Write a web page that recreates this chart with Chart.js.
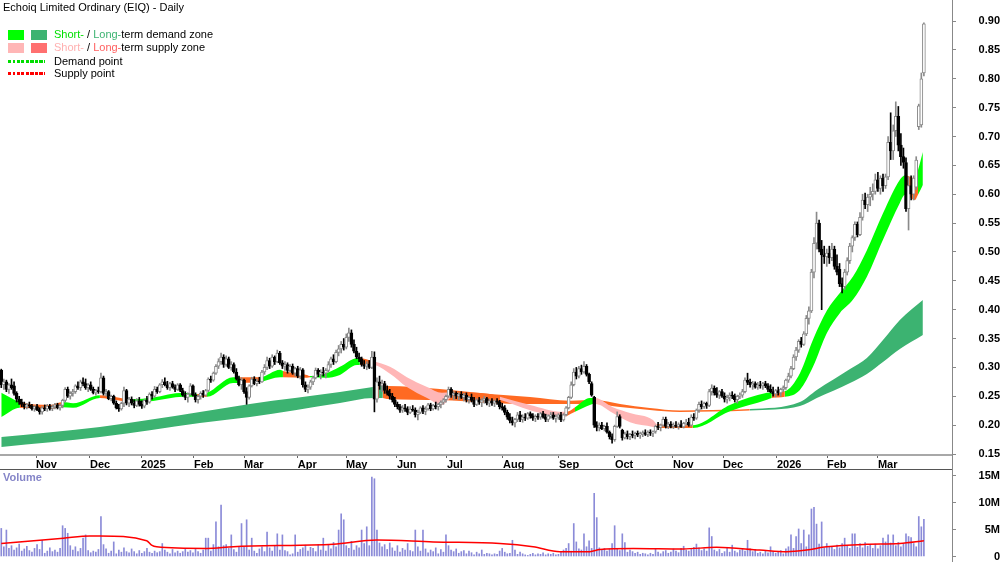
<!DOCTYPE html>
<html>
<head>
<meta charset="utf-8">
<script src="https://cdn.jsdelivr.net/npm/chart.js@4.4.1/dist/chart.umd.min.js"></script>
<style>
  body { margin: 0; background: #fff; width: 1000px; height: 562px; overflow: hidden; position: relative;
         font-family: "Liberation Sans", Arial, sans-serif; }
  #priceBox { position: absolute; left: 0; top: 0; width: 1000px; height: 470px; }
  #volBox { position: absolute; left: 0; top: 470px; width: 1000px; height: 92px; }
  .sep { position: absolute; left: 0; top: 469px; width: 953px; height: 1px; background: #555; }
  .axisLine { position: absolute; left: 952px; top: 0; width: 1px; height: 562px; background: #888; }
  .title { position: absolute; left: 3px; top: 1px; font-size: 11px; color: #000; }
  .leg { position: absolute; left: 54px; font-size: 11px; color: #000; white-space: nowrap; }
  .sw { position: absolute; width: 16px; height: 10px; }
  .dots { position: absolute; left: 8px; width: 37px; height: 3px; }
  .volLabel { position: absolute; left: 3px; top: 471px; font-size: 11px; font-weight: bold; color: #8585c8; }
</style>
</head>
<body>
<div id="priceBox"><canvas id="priceChart" width="1000" height="470"></canvas></div>
<div id="volBox"><canvas id="volChart" width="1000" height="92"></canvas></div>
<div class="sep"></div>
<div class="axisLine"></div>

<div class="title">Echoiq Limited Ordinary (EIQ) - Daily</div>
<div class="sw" style="left:8px;top:30px;background:#00ff00"></div>
<div class="sw" style="left:31px;top:30px;background:#3cb371"></div>
<div class="leg" style="top:28px"><span style="color:#00e000">Short-</span> / <span style="color:#3cb371">Long-</span>term demand zone</div>
<div class="sw" style="left:8px;top:43px;background:#ffb6b6"></div>
<div class="sw" style="left:31px;top:43px;background:#ff7070"></div>
<div class="leg" style="top:41px"><span style="color:#ffb0b0">Short-</span> / <span style="color:#ff6060">Long-</span>term supply zone</div>
<div class="dots" style="top:60px;background:repeating-linear-gradient(90deg,#00dd00 0 3px,transparent 3px 4.5px)"></div>
<div class="leg" style="top:55px">Demand point</div>
<div class="dots" style="top:72px;background:repeating-linear-gradient(90deg,#ff0000 0 3px,transparent 3px 4.5px)"></div>
<div class="leg" style="top:67px">Supply point</div>
<div class="volLabel">Volume</div>

<script>
// --- axis ticks ---
const monthPos = [13.6, 34.7, 54.7, 75.4, 95, 116, 134.9, 154.8, 174.4, 196.3, 218.2, 240.1, 262.8, 282.4, 303.5, 323.1, 343];
const monthLabels = ["Nov", "Dec", "2025", "Feb", "Mar", "Apr", "May", "Jun", "Jul", "Aug", "Sep", "Oct", "Nov", "Dec", "2026", "Feb", "Mar"];
const priceTicks = [0.15, 0.20, 0.25, 0.30, 0.35, 0.40, 0.45, 0.50, 0.55, 0.60, 0.65, 0.70, 0.75, 0.80, 0.85, 0.90];
const volTicks = [0, 5, 10, 15];

// --- daily bars: [open, high, low, close] ---
const priceBars = [
  [.295,.297,.265,.27],[.27,.28,.262,.275],[.275,.278,.258,.262],[.262,.272,.255,.27],[.27,.28,.262,.265],[.268,.275,.252,.255],[.255,.258,.24,.245],[.245,.25,.236,.24],[.24,.245,.232,.236],[.236,.24,.228,.232],
  [.232,.238,.228,.235],[.235,.24,.23,.233],[.233,.236,.226,.228],[.228,.234,.224,.232],[.232,.236,.225,.227],[.227,.23,.219,.223],[.223,.232,.219,.23],[.23,.235,.225,.228],[.228,.236,.224,.233],[.233,.236,.226,.229],
  [.229,.235,.225,.232],[.232,.238,.228,.235],[.235,.238,.228,.23],[.23,.236,.226,.234],[.234,.245,.23,.243],[.243,.265,.24,.262],[.262,.266,.248,.25],[.25,.258,.245,.255],[.255,.262,.25,.258],[.258,.27,.255,.268],
  [.268,.275,.262,.265],[.265,.278,.26,.275],[.275,.282,.268,.272],[.272,.28,.262,.265],[.265,.272,.258,.27],[.27,.275,.26,.262],[.262,.266,.254,.256],[.256,.262,.252,.26],[.26,.266,.255,.258],[.258,.29,.256,.282],
  [.282,.285,.252,.255],[.255,.262,.25,.258],[.258,.26,.244,.246],[.246,.252,.242,.25],[.25,.252,.236,.238],[.238,.242,.228,.23],[.23,.236,.224,.228],[.228,.24,.226,.238],[.238,.266,.232,.26],[.26,.262,.235,.238],
  [.238,.248,.232,.245],[.245,.249,.235,.238],[.238,.244,.23,.234],[.234,.246,.232,.242],[.242,.248,.233,.236],[.236,.242,.229,.233],[.233,.245,.23,.243],[.243,.25,.236,.24],[.24,.256,.238,.254],[.254,.258,.245,.25],
  [.25,.267,.248,.262],[.262,.266,.255,.258],[.258,.272,.256,.27],[.27,.279,.265,.275],[.275,.282,.268,.27],[.27,.276,.262,.265],[.265,.274,.26,.272],[.272,.276,.264,.266],[.266,.27,.258,.262],[.262,.272,.26,.27],
  [.27,.272,.258,.26],[.26,.264,.25,.252],[.252,.258,.244,.248],[.248,.256,.24,.254],[.254,.272,.252,.268],[.268,.27,.25,.252],[.252,.256,.24,.244],[.244,.252,.238,.25],[.25,.258,.245,.255],[.255,.26,.248,.252],
  [.252,.262,.25,.26],[.26,.282,.258,.28],[.28,.285,.274,.278],[.278,.292,.276,.29],[.29,.305,.288,.302],[.302,.315,.298,.31],[.31,.325,.305,.318],[.318,.322,.3,.305],[.305,.32,.302,.315],[.315,.318,.298,.3],
  [.3,.31,.295,.305],[.305,.308,.29,.292],[.292,.298,.278,.28],[.28,.285,.268,.27],[.27,.282,.262,.278],[.278,.28,.255,.258],[.258,.265,.236,.248],[.248,.27,.245,.268],[.268,.283,.266,.28],[.28,.284,.27,.272],
  [.272,.28,.268,.276],[.276,.283,.272,.275],[.275,.295,.274,.292],[.292,.305,.288,.3],[.3,.318,.296,.312],[.312,.316,.298,.302],[.302,.322,.3,.318],[.318,.32,.305,.31],[.31,.33,.308,.325],[.325,.328,.305,.308],
  [.308,.312,.298,.302],[.302,.31,.295,.305],[.305,.308,.29,.295],[.295,.305,.292,.302],[.302,.306,.288,.29],[.29,.3,.285,.298],[.298,.302,.282,.285],[.285,.3,.28,.296],[.296,.298,.266,.27],[.27,.275,.258,.262],
  [.262,.27,.256,.266],[.266,.278,.262,.275],[.275,.285,.27,.282],[.282,.299,.28,.295],[.295,.298,.284,.288],[.288,.296,.28,.292],[.292,.3,.285,.29],[.29,.298,.282,.295],[.295,.31,.292,.305],[.305,.318,.3,.315],
  [.315,.322,.305,.31],[.31,.33,.308,.326],[.326,.338,.32,.332],[.332,.345,.325,.34],[.34,.35,.33,.335],[.335,.358,.332,.352],[.352,.368,.345,.36],[.36,.365,.335,.34],[.34,.348,.325,.328],[.328,.335,.315,.318],
  [.318,.325,.31,.315],[.315,.318,.302,.305],[.305,.312,.298,.302],[.302,.31,.296,.306],[.306,.312,.298,.3],[.3,.328,.298,.318],[.318,.327,.223,.245],[.245,.282,.24,.275],[.275,.285,.262,.268],[.268,.278,.258,.272],
  [.272,.276,.255,.26],[.26,.268,.252,.255],[.255,.262,.245,.25],[.25,.255,.24,.244],[.244,.248,.232,.236],[.236,.24,.228,.232],[.232,.236,.222,.226],[.226,.234,.222,.23],[.23,.236,.224,.228],[.228,.232,.218,.222],
  [.222,.232,.22,.228],[.228,.234,.224,.226],[.226,.23,.214,.218],[.218,.226,.209,.222],[.222,.232,.22,.23],[.23,.234,.22,.224],[.224,.232,.218,.228],[.228,.238,.226,.235],[.235,.238,.225,.228],[.228,.236,.226,.234],
  [.234,.24,.228,.232],[.232,.238,.226,.236],[.236,.242,.23,.24],[.24,.246,.236,.244],[.244,.252,.24,.25],[.25,.266,.248,.262],[.262,.265,.248,.252],[.252,.258,.244,.255],[.255,.258,.246,.25],[.25,.256,.244,.254],
  [.254,.258,.246,.248],[.248,.255,.242,.252],[.252,.256,.24,.244],[.244,.25,.238,.248],[.248,.254,.24,.243],[.243,.248,.232,.236],[.236,.246,.234,.244],[.244,.248,.236,.24],[.24,.246,.232,.243],[.243,.25,.238,.246],
  [.246,.248,.235,.238],[.238,.245,.232,.242],[.242,.246,.234,.238],[.238,.244,.232,.242],[.242,.246,.236,.24],[.24,.243,.228,.232],[.232,.238,.226,.23],[.23,.234,.218,.222],[.222,.226,.21,.214],[.214,.22,.204,.208],
  [.208,.214,.2,.204],[.204,.212,.197,.21],[.21,.222,.206,.218],[.218,.224,.206,.21],[.21,.218,.205,.214],[.214,.22,.208,.212],[.212,.222,.21,.22],[.22,.223,.212,.216],[.216,.22,.208,.212],[.212,.218,.206,.215],
  [.215,.22,.21,.214],[.214,.222,.21,.22],[.22,.224,.212,.214],[.214,.219,.206,.21],[.21,.218,.206,.216],[.216,.222,.212,.218],[.218,.222,.21,.212],[.212,.218,.205,.214],[.214,.22,.21,.218],[.218,.222,.206,.209],
  [.209,.22,.207,.218],[.218,.232,.216,.23],[.23,.25,.228,.248],[.248,.275,.246,.27],[.27,.298,.268,.292],[.292,.3,.28,.285],[.285,.302,.282,.298],[.298,.304,.288,.292],[.292,.31,.29,.302],[.302,.305,.285,.288],
  [.288,.29,.272,.275],[.272,.275,.25,.252],[.248,.25,.196,.2],[.2,.206,.19,.196],[.196,.204,.19,.2],[.2,.205,.192,.194],[.194,.2,.19,.198],[.198,.204,.186,.188],[.188,.19,.176,.18],[.18,.185,.169,.175],
  [.175,.2,.172,.198],[.198,.223,.196,.215],[.215,.218,.195,.198],[.191,.193,.174,.178],[.178,.188,.176,.185],[.185,.19,.176,.18],[.18,.186,.175,.184],[.184,.19,.178,.182],[.182,.188,.176,.186],[.186,.19,.18,.183],
  [.183,.188,.177,.185],[.185,.19,.18,.187],[.187,.192,.182,.184],[.184,.19,.18,.188],[.188,.192,.182,.186],[.186,.19,.18,.189],[.189,.2,.186,.198],[.198,.205,.192,.196],[.196,.202,.19,.2],[.2,.214,.198,.21],
  [.21,.214,.195,.198],[.198,.205,.194,.202],[.202,.206,.195,.198],[.198,.204,.194,.2],[.2,.206,.196,.198],[.198,.204,.193,.201],[.201,.208,.196,.197],[.197,.205,.195,.203],[.203,.21,.2,.205],[.205,.212,.198,.2],
  [.2,.218,.198,.214],[.214,.22,.208,.212],[.212,.228,.21,.226],[.226,.24,.222,.236],[.236,.242,.228,.232],[.232,.24,.229,.238],[.238,.24,.229,.234],[.234,.262,.232,.258],[.258,.27,.252,.264],[.264,.268,.252,.256],
  [.256,.265,.248,.252],[.252,.26,.246,.258],[.258,.262,.248,.25],[.25,.256,.24,.245],[.245,.252,.238,.248],[.248,.256,.242,.252],[.252,.258,.246,.25],[.25,.254,.24,.244],[.244,.252,.238,.25],[.25,.256,.246,.252],
  [.252,.262,.248,.258],[.258,.282,.256,.278],[.278,.29,.27,.274],[.274,.28,.266,.27],[.27,.276,.262,.272],[.272,.275,.264,.266],[.266,.274,.262,.27],[.27,.276,.264,.268],[.268,.274,.262,.272],[.272,.276,.265,.268],
  [.268,.272,.258,.262],[.262,.27,.256,.258],[.258,.266,.25,.254],[.254,.262,.249,.26],[.26,.266,.252,.256],[.256,.264,.25,.262],[.262,.268,.258,.265],[.265,.28,.262,.278],[.278,.29,.274,.285],[.285,.302,.282,.298],
  [.298,.322,.296,.318],[.318,.335,.312,.33],[.33,.348,.326,.345],[.345,.352,.335,.34],[.34,.362,.338,.358],[.358,.39,.355,.385],[.385,.405,.375,.398],[.398,.47,.395,.465],[.465,.525,.455,.515],[.515,.569,.505,.55],
  [.55,.555,.5,.505],[.505,.52,.4,.495],[.495,.51,.48,.492],[.492,.505,.475,.498],[.498,.51,.48,.49],[.49,.515,.485,.505],[.505,.51,.47,.475],[.475,.495,.46,.465],[.47,.48,.44,.445],[.445,.455,.429,.44],
  [.44,.47,.435,.465],[.465,.49,.46,.485],[.485,.515,.48,.51],[.51,.528,.5,.525],[.525,.552,.52,.548],[.548,.552,.526,.53],[.53,.568,.528,.56],[.56,.6,.555,.59],[.59,.602,.575,.582],[.582,.6,.57,.595],
  [.595,.612,.58,.6],[.6,.618,.59,.605],[.605,.635,.6,.625],[.625,.638,.605,.61],[.61,.632,.6,.628],[.628,.635,.605,.615],[.615,.635,.61,.63],[.63,.7,.625,.69],[.69,.741,.66,.675],[.675,.72,.66,.71],
  [.71,.76,.7,.735],[.735,.752,.675,.685],[.685,.705,.65,.665],[.665,.68,.645,.655],[.655,.663,.57,.575],[.575,.63,.538,.615],[.615,.632,.59,.6],[.6,.632,.59,.628],[.612,.665,.608,.659],[.717,.756,.712,.753],
  [.72,.81,.716,.8],[.81,.897,.805,.895]
];

// --- daily volume (millions) ---
const volume = [
  5.2,1.8,4.9,1.5,2.0,1.2,1.6,2.3,1.0,1.4, 1.9,1.1,0.8,1.5,2.2,1.3,3.0,0.6,1.0,1.6,
  0.9,1.2,0.8,1.5,5.7,5.2,4.3,2.0,1.2,1.8, 0.9,1.5,3.4,4.0,1.1,0.7,1.0,0.8,1.3,7.4,
  2.2,1.4,0.6,1.0,2.7,0.5,1.2,0.8,1.6,0.9, 0.7,1.4,0.9,0.5,1.1,0.6,0.9,1.5,0.8,0.6,
  1.0,0.7,0.9,2.4,1.2,0.8,0.5,1.3,0.7,1.0, 0.6,0.9,1.4,0.8,1.1,0.7,1.5,0.9,0.6,1.2,
  3.4,3.4,1.0,2.2,6.4,1.8,9.5,2.0,2.2,1.5, 4.0,1.3,0.8,1.9,6.1,1.7,6.8,1.2,3.4,1.0,
  0.6,1.4,1.8,0.9,4.5,1.6,1.0,2.0,4.2,1.2, 4.0,1.1,0.9,0.3,0.5,4.0,0.8,1.3,1.6,2.1,
  1.0,1.7,1.5,0.9,2.2,1.2,3.4,1.0,2.1,1.4, 2.6,1.8,4.9,7.9,6.8,2.0,1.5,2.8,1.2,2.0,
  1.6,4.9,2.4,5.5,2.0,14.7,14.4,4.9,2.5,1.8, 2.2,1.3,2.5,1.6,1.0,2.0,0.8,1.5,1.2,2.4,
  1.1,0.9,4.9,1.8,1.0,4.9,1.4,0.7,1.2,0.9, 1.6,0.5,1.3,0.8,4.0,2.0,1.2,0.9,1.4,0.6,
  0.9,1.1,0.5,1.0,0.7,0.3,0.8,0.5,1.2,0.4, 0.6,0.5,0.3,0.5,0.4,1.0,1.5,0.8,0.5,0.6,
  3.0,1.2,0.4,0.8,0.5,0.3,0.2,0.4,0.6,0.3, 0.5,0.4,0.7,0.3,0.5,0.4,0.6,0.3,0.4,0.8,
  1.2,1.5,2.4,1.0,6.1,2.7,1.4,1.2,4.2,1.8, 2.9,1.5,11.7,7.2,1.6,1.3,1.5,1.0,1.4,2.4,
  5.7,1.5,1.1,4.2,2.6,0.8,1.2,0.9,0.6,0.8, 0.4,0.6,0.5,0.3,0.6,0.4,1.5,0.8,0.5,0.9,
  1.1,0.6,0.8,1.4,1.0,0.7,1.5,1.9,1.2,1.0, 1.5,1.7,2.3,1.6,1.1,1.4,1.0,5.3,3.7,1.2,
  0.9,1.3,0.6,0.9,1.5,0.8,2.1,1.0,0.7,1.2, 1.5,1.0,3.0,1.4,0.9,1.3,0.6,0.8,0.5,1.0,
  0.7,1.8,0.9,0.6,0.8,1.1,0.5,1.4,1.8,4.0, 1.5,3.7,5.1,2.4,4.9,1.8,4.0,8.8,9.1,6.0,
  2.3,6.4,1.6,2.4,1.7,1.9,1.3,2.1,1.6,2.4, 3.4,2.0,1.5,4.2,4.2,1.7,2.4,1.6,2.6,1.9,
  2.2,1.5,2.3,1.4,2.0,3.4,2.7,4.0,2.5,4.0, 2.0,2.6,1.8,2.4,4.2,3.7,3.5,2.4,1.8,7.4,
  5.5,6.9
];

// --- volume moving average (read at sparse bars) ---
const volAvgX = [0, 24.3, 34.7, 38.6, 56.9, 58.8, 60.8, 80.4, 90.8, 116.9, 129.9, 146.9, 169, 195.1, 208.1, 218.6, 230.3, 234.2, 247.3, 266.8, 279.9, 296.8, 307.3, 315.1, 322.9, 338.5, 351.6, 361];
const volAvgY = [2.4, 3.4, 3.8, 3.8, 2.9, 2.1, 1.8, 1.5, 1.8, 2.1, 2.25, 3.06, 2.7, 2.4, 1.8, 0.9, 0.9, 1.3, 1.5, 1.4, 1.7, 1.2, 0.9, 1.2, 1.8, 2.25, 2.4, 2.9];

// --- short-term zone (g demand, p/o supply) ---
const shortX = [0, 7.3, 19.1, 24.1, 28.1, 38.6, 51.5, 59.4, 71.1, 76.6, 80.5, 90.7, 93.4, 101.2, 109.1, 110.2, 119.6, 120.8, 126.7, 132.5, 139.2, 140.3, 145.4, 152.1, 158.7, 166.6, 172.4, 176.3, 191.2, 195.1, 206.9, 219.8, 221.3, 224.5, 230.3, 232.3, 239.3, 246, 255, 256.5, 270.6, 285.1, 299.6, 301.5, 306.6, 312.5, 317.6, 323.1, 328.1, 333.2, 338.7, 345, 351.6, 353.6, 357.5, 358.7, 360.6];
const shortTop = [.256, .240, .235, .240, .238, .252, .245, .248, .256, .254, .256, .283, .283, .283, .296, .294, .287, .285, .289, .301, .316, .316, .311, .301, .283, .266, .256, .257, .254, .249, .235, .223, .223, .231, .247, .247, .231, .221, .209, .202, .200, .235, .256, .257, .259, .290, .348, .399, .429, .457, .503, .567, .625, .633, .628, .642, .673];
const shortBottom = [.214, .230, .228, .231, .230, .247, .240, .242, .249, .249, .249, .273, .273, .275, .283, .283, .282, .283, .282, .287, .304, .304, .304, .289, .266, .247, .235, .248, .249, .244, .226, .214, .216, .223, .235, .237, .221, .205, .197, .195, .195, .224, .244, .247, .249, .261, .301, .360, .394, .417, .457, .521, .585, .599, .590, .599, .616];
const shortZone = ["g","o","o","g","g","o","g","g","g","o","g","g","o","g","g","o","o","g","g","g","g","o","p","p","p","p","p","o","o","p","p","p","o","g","g","p","p","p","p","o","g","g","g","o","g","g","g","g","g","g","g","g","g","o","o","g","g"];

// --- long-term zone (d demand, o supply) ---
const longX = [0, 38.6, 77.7, 97.3, 132.5, 145.4, 147.8, 149.3, 150.9, 171.6, 191.2, 206.9, 222.5, 232.3, 242.1, 253.8, 265.5, 278.4, 292.9, 312.5, 319.1, 332.1, 338.7, 345, 351.6, 360.6];
const longTop = [.1794, .1968, .2227, .2366, .2574, .2660, .2678, .2678, .2678, .2626, .2539, .2487, .2423, .2435, .2366, .2297, .2253, .2262, .2279, .2401, .2608, .2972, .3163, .3475, .3821, .4167];
const longBottom = [.1621, .1794, .2037, .2141, .2383, .2470, .2470, .2470, .2453, .2435, .2383, .2366, .2366, .2366, .2314, .2262, .2227, .2236, .2253, .2331, .2470, .2730, .2886, .3094, .3319, .3561];
const longZone = ["d","d","d","d","d","o","d","o","o","o","o","o","o","o","o","o","o","o","d","d","d","d","d","d","d","d"];

const zoneColors = { g: "#00ff00", d: "#3cb371", p: "#ffb6b6", o: "#ff6a22" };

Chart.defaults.font.family = '"Liberation Sans", Arial, sans-serif';
Chart.defaults.font.size = 11;

const axisFont = { size: 11, weight: "bold" };
const xMin = -0.5, xMax = 372;

function pts(xs, ys) {
  return xs.map((x, i) => ({ x: x, y: ys[i] }));
}
function isUp(i) {
  const b = priceBars[i];
  return b && b[3] >= b[0];
}

function bandUpper(xs, ys, zones, order) {
  return {
    type: "line", data: pts(xs, ys), order: order,
    borderWidth: 0, borderColor: "rgba(0,0,0,0)", pointRadius: 0,
    cubicInterpolationMode: "monotone",
    fill: "+1", backgroundColor: zoneColors[zones[0]],
    segment: { backgroundColor: c => zoneColors[zones[c.p0DataIndex]] }
  };
}
function bandLower(xs, ys, order) {
  return {
    type: "line", data: pts(xs, ys), order: order,
    borderWidth: 0, borderColor: "rgba(0,0,0,0)", pointRadius: 0,
    cubicInterpolationMode: "monotone", fill: false
  };
}

// --- PRICE CHART ---
new Chart(document.getElementById("priceChart"), {
  type: "bar",
  data: {
    datasets: [
      bandUpper(longX, longTop, longZone, 5),
      bandLower(longX, longBottom, 5),
      bandUpper(shortX, shortTop, shortZone, 3),
      bandLower(shortX, shortBottom, 3),
      {
        // wicks
        data: priceBars.map((b, i) => ({ x: i, y: [b[2], b[1]] })),
        barThickness: 1, grouped: false, order: 1,
        backgroundColor: c => isUp(c.dataIndex) ? "#8a8a8a" : "#000"
      },
      {
        // bodies
        data: priceBars.map((b, i) => ({ x: i, y: [b[0], b[3]] })),
        barThickness: 3, grouped: false, order: 0, minBarLength: 1,
        borderWidth: 1, borderSkipped: false,
        backgroundColor: c => isUp(c.dataIndex) ? "#fff" : "#000",
        borderColor: c => isUp(c.dataIndex) ? "#8a8a8a" : "#000"
      }
    ]
  },
  options: {
    responsive: false, animation: false, events: [],
    layout: { padding: 0, autoPadding: false },
    plugins: { legend: { display: false }, tooltip: { enabled: false } },
    scales: {
      x: {
        type: "linear", min: xMin, max: xMax, offset: false,
        grid: { drawOnChartArea: false, drawTicks: true, tickLength: 3, color: "#666", offset: false },
        border: { display: true, color: "#a8a8a8", width: 2 },
        ticks: { autoSkip: false, maxRotation: 0, align: "start", padding: 0, color: "#000", font: axisFont,
                 callback: (v, i) => monthLabels[i] },
        afterBuildTicks: s => { s.ticks = monthPos.map(v => ({ value: v })); },
        afterFit: s => { s.height = 15; s.paddingLeft = 0; s.paddingRight = 0; }
      },
      y: {
        type: "linear", position: "right", min: 0.1483, max: 0.9364,
        grid: { drawOnChartArea: false, tickLength: 4, color: "#888" },
        border: { display: false },
        ticks: { crossAlign: "far", padding: 20, color: "#000", font: axisFont,
                 callback: v => v.toFixed(2) },
        afterBuildTicks: s => { s.ticks = priceTicks.map(v => ({ value: v })); },
        afterFit: s => { s.width = 48; s.paddingTop = 0; s.paddingBottom = 0; }
      }
    }
  }
});

// --- VOLUME CHART ---
new Chart(document.getElementById("volChart"), {
  type: "bar",
  data: {
    datasets: [
      {
        type: "line", data: pts(volAvgX, volAvgY), order: 0,
        borderColor: "#ff0000", borderWidth: 1.5, pointRadius: 0,
        cubicInterpolationMode: "monotone", fill: false
      },
      {
        data: volume.map((v, i) => ({ x: i, y: v })),
        barThickness: 1, grouped: false, order: 1,
        backgroundColor: "#8b8bd8"
      }
    ]
  },
  options: {
    responsive: false, animation: false, events: [],
    layout: { padding: 0, autoPadding: false },
    plugins: { legend: { display: false }, tooltip: { enabled: false } },
    scales: {
      x: { type: "linear", min: xMin, max: xMax, offset: false, display: false },
      y: {
        type: "linear", position: "right", min: -1.02, max: 16.02,
        grid: { drawOnChartArea: false, tickLength: 4, color: "#888" },
        border: { display: false },
        ticks: { crossAlign: "far", padding: 20, color: "#000", font: axisFont,
                 callback: v => v === 0 ? "0" : v + "M" },
        afterBuildTicks: s => { s.ticks = volTicks.map(v => ({ value: v })); },
        afterFit: s => { s.width = 48; s.paddingTop = 0; s.paddingBottom = 0; }
      }
    }
  }
});
</script>
</body>
</html>
